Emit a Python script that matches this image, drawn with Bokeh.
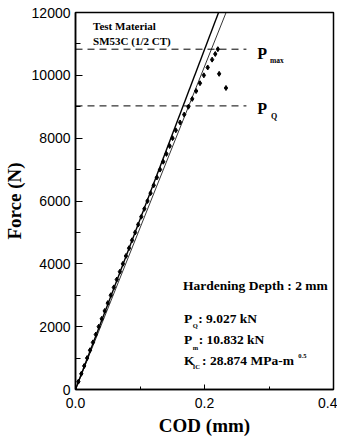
from bokeh.plotting import figure
from bokeh.models import Label, FixedTicker, Range1d
from bokeh.embed import file_html
from bokeh.resources import INLINE

# ---- data ----
force_N = [0, 250, 500, 750, 1000, 1250, 1500, 1750, 2000, 2250, 2500, 2750,
           3000, 3250, 3500, 3750, 4000, 4250, 4500, 4750, 5000, 5250, 5500,
           5750, 6000, 6250, 6500, 6750, 7000, 7250, 7500, 7750, 8000, 8250,
           8500, 8750, 9000, 9250, 9500, 9750, 10000, 10250, 10500, 10680,
           10832, 10047, 9597]
cod_mm = [0.0, 0.0045, 0.009, 0.0135, 0.018, 0.0225, 0.027, 0.0315, 0.036,
          0.0407, 0.0453, 0.050, 0.0547, 0.0594, 0.064, 0.0688, 0.0735,
          0.0782, 0.083, 0.0877, 0.0925, 0.0972, 0.102, 0.1068, 0.1116,
          0.1164, 0.1213, 0.1262, 0.1311, 0.1360, 0.1410, 0.1460, 0.1505,
          0.1555, 0.1622, 0.1685, 0.1750, 0.1810, 0.1870, 0.1930, 0.1990,
          0.2050, 0.2118, 0.2167, 0.2207, 0.2227, 0.2333]

elastic_slope = 54100.0   # N/mm, solid line
secant_slope = 51400.0    # N/mm, 5 % secant line
line_force_end = 12600.0

P_Q = 9027.0
P_max = 10832.0
dash_cod_end = 0.265

x_ticks = [0.0, 0.2, 0.4]
x_tick_labels = ["0.0", "0.2", "0.4"]
x_minor = [0.1, 0.3]
y_ticks = [0, 2000, 4000, 6000, 8000, 10000, 12000]
y_minor = [1000, 3000, 5000, 7000, 9000, 11000]

# ---- layout (picture pixels of the plot frame) ----
OFF_X, OFF_Y = 8, 0
W, H = 337, 438
FR_L, FR_R, FR_T, FR_B = 77, 341, 12, 392

p = figure(width=W, height=H, output_backend="svg", toolbar_location=None,
           x_range=Range1d(0, 0.4), y_range=Range1d(0, 12000),
           min_border_left=FR_L - OFF_X, min_border_right=OFF_X + W - FR_R,
           min_border_top=FR_T - OFF_Y, min_border_bottom=OFF_Y + H - FR_B)
p.grid.visible = False
p.outline_line_color = "black"
p.outline_line_width = 1.5
p.background_fill_color = "white"
p.border_fill_color = "white"

SERIF = "Liberation Serif"
SANS = "Liberation Sans"

for ax in (p.xaxis[0], p.yaxis[0]):
    ax.axis_line_color = "black"
    ax.axis_line_width = 1.5
    ax.major_tick_out = 0
    ax.minor_tick_out = 0
    ax.major_tick_line_color = "black"
    ax.minor_tick_line_color = "black"
    ax.major_label_text_font = SANS
    ax.major_label_text_font_size = "14px"
    ax.major_label_text_color = "black"
    ax.axis_label_text_font = SERIF
    ax.axis_label_text_font_style = "bold"
    ax.axis_label_text_font_size = "19px"
    ax.axis_label_text_color = "black"

p.xaxis.ticker = FixedTicker(ticks=x_ticks, minor_ticks=x_minor)
p.xaxis.major_label_overrides = {t: s for t, s in zip(x_ticks, x_tick_labels)}
p.xaxis.major_tick_in = 5
p.xaxis.minor_tick_in = 3
p.xaxis.major_label_standoff = 8
p.xaxis.axis_label = "COD (mm)"
p.xaxis.axis_label_standoff = 4

p.yaxis.ticker = FixedTicker(ticks=y_ticks, minor_ticks=y_minor)
p.yaxis.major_tick_in = 7
p.yaxis.minor_tick_in = 5
p.yaxis.major_label_standoff = 5
p.yaxis.axis_label = "Force (N)"
p.yaxis.axis_label_standoff = 4

# lines through origin
p.line([0, line_force_end / elastic_slope], [0, line_force_end],
       line_color="black", line_width=1.4)
p.line([0, line_force_end / secant_slope], [0, line_force_end],
       line_color="black", line_width=0.8)

# dashed load levels
for lvl in (P_Q, P_max):
    p.line([0, dash_cod_end], [lvl, lvl], line_color="black", line_width=1,
           line_dash="7 5")

# measured points
p.scatter(cod_mm, force_N, marker="diamond", size=5, color="black")


def px2data(px, py):
    return ((px - FR_L) / (FR_R - FR_L) * 0.4,
            (FR_B - py) / (FR_B - FR_T) * 12000)


def lab(text, px, py, size, font=SERIF, style="bold", align="left"):
    x, y = px2data(px, py)
    p.add_layout(Label(x=x, y=y, text=text, text_font=font,
                       text_font_style=style, text_font_size=f"{size}px",
                       text_color="black", text_align=align,
                       text_baseline="middle"))


lab("Test Material", 95, 25.5, 11)
lab("SM53C (1/2 CT)", 95, 40.5, 11)

lab("P", 263, 53, 16)
lab("max", 276, 60, 7.5)
lab("P", 263, 109, 16)
lab("Q", 277, 117, 8)

lab("Hardening Depth : 2 mm", 187, 287, 13.5)
lab("P", 188, 320.5, 13.5)
lab("Q", 197, 327.5, 6.5)
lab(": 9.027 kN", 202.5, 320.5, 13.5)
lab("P", 188, 342, 13.5)
lab("m", 197, 349.5, 6.5)
lab(": 10.832 kN", 203, 342, 13.5)
lab("K", 188, 362.5, 13.5)
lab("IC", 197, 369, 6.5)
lab(": 28.874 MPa-m", 206.5, 362.5, 13.5)
lab("0.5", 305, 358.5, 6.5)

open("out.html", "w").write(file_html(p, INLINE))
